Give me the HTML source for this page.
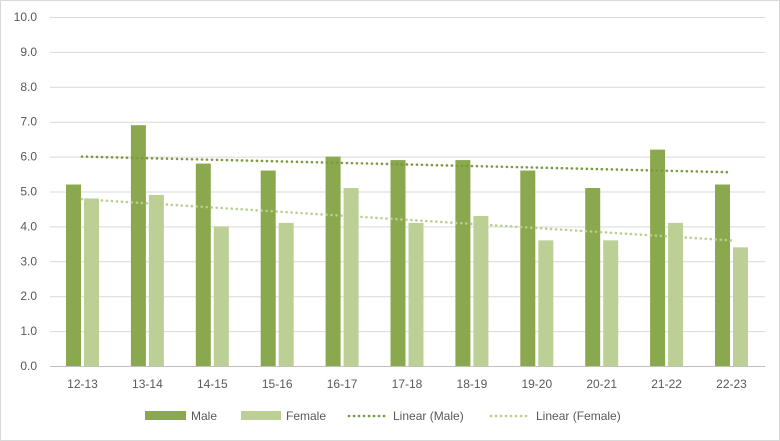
<!DOCTYPE html>
<html><head><style>body{margin:0;background:#fff}svg{display:block}text{font-family:"Liberation Sans",sans-serif;font-size:12px;fill:#595959}</style></head><body>
<svg width="780" height="441" xmlns="http://www.w3.org/2000/svg">
<rect x="0.5" y="0.5" width="779" height="440" fill="#fff" stroke="#d9d9d9"/>
<g id="grid" stroke="#d9d9d9" stroke-width="1"></g>
<g id="bars"></g>
<g id="labels"></g>
<line x1="82" y1="156.6" x2="731" y2="172.3" stroke="#7a9a3e" stroke-width="2.6" stroke-dasharray="0.1 4.9" stroke-linecap="round"/>
<line x1="82" y1="199.2" x2="731" y2="240.4" stroke="#b8cf8e" stroke-width="2.6" stroke-dasharray="0.1 4.9" stroke-linecap="round"/>
<rect x="145" y="411" width="41" height="9" fill="#8aa84e"/><text x="191" y="420">Male</text>
<rect x="241" y="411" width="40" height="9" fill="#bcd096"/><text x="286" y="420">Female</text>
<line x1="349" y1="416" x2="388" y2="416" stroke="#7a9a3e" stroke-width="2.6" stroke-dasharray="0.1 4.9" stroke-linecap="round"/><text x="393" y="420">Linear (Male)</text>
<line x1="491" y1="416" x2="530" y2="416" stroke="#b8cf8e" stroke-width="2.6" stroke-dasharray="0.1 4.9" stroke-linecap="round"/><text x="536" y="420">Linear (Female)</text>
<script>
var ns="http://www.w3.org/2000/svg";
function el(p,t,a,tx){var e=document.createElementNS(ns,t);for(var k in a)e.setAttribute(k,a[k]);if(tx)e.textContent=tx;document.getElementById(p).appendChild(e);}
var y0=366,s=34.9;
for(var i=0;i<=10;i++){var y=y0-i*s;el("grid","line",{x1:50,x2:765,y1:y+0.5,y2:y+0.5,stroke:i==0?"#bfbfbf":"#d9d9d9"});el("labels","text",{x:37,y:y+4,"text-anchor":"end"},i.toFixed(1));}
var cats=["12-13","13-14","14-15","15-16","16-17","17-18","18-19","19-20","20-21","21-22","22-23"];
var m=[5.2,6.9,5.8,5.6,6.0,5.9,5.9,5.6,5.1,6.2,5.2],f=[4.8,4.9,4.0,4.1,5.1,4.1,4.3,3.6,3.6,4.1,3.4];
for(var i=0;i<11;i++){var c=82.5+i*64.9;
el("bars","rect",{x:c-16.5,y:y0-m[i]*s,width:15,height:m[i]*s,fill:"#8aa84e"});
el("bars","rect",{x:c+1.5,y:y0-f[i]*s,width:15,height:f[i]*s,fill:"#bcd096"});
el("labels","text",{x:c,y:388,"text-anchor":"middle"},cats[i]);}
</script>
</svg></body></html>
